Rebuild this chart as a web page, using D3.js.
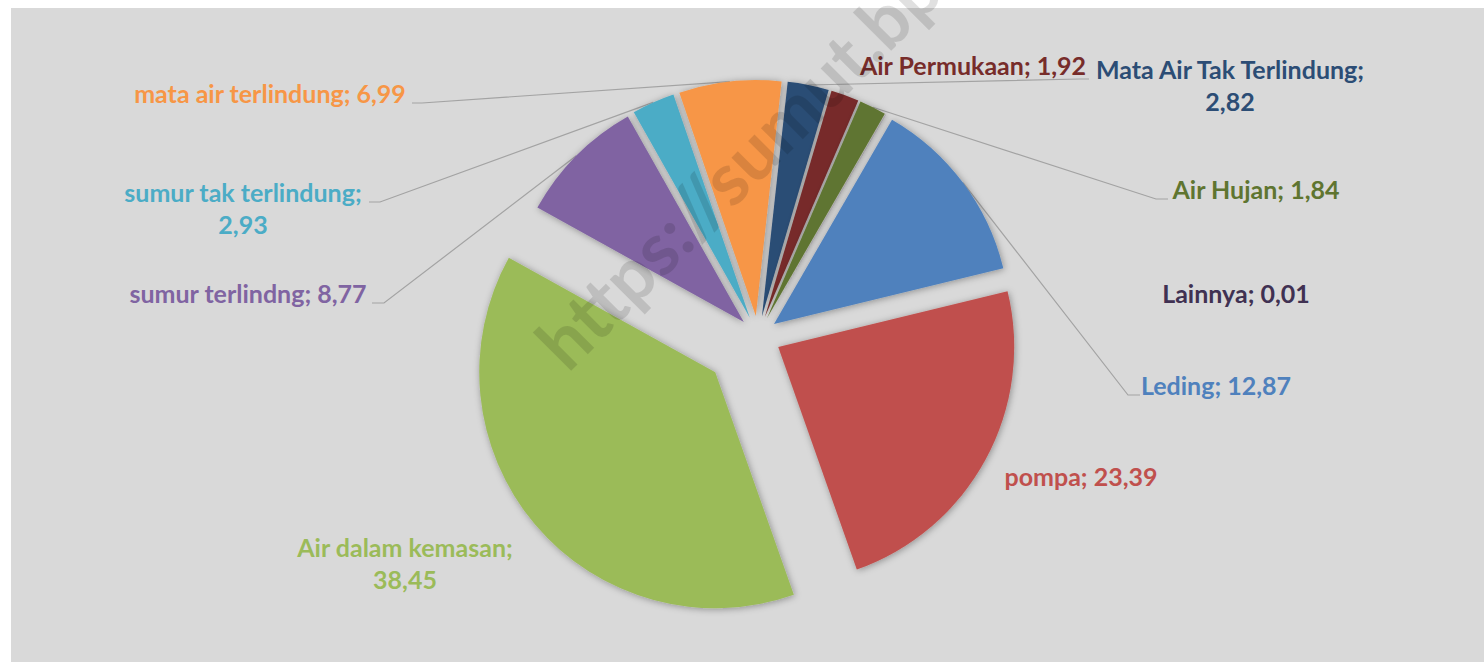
<!doctype html>
<html>
	<head>
		<meta charset="UTF-8">
		<script src="https://d3js.org/d3.v7.min.js"></script>
		<style>
			body { margin: 0; background: #ffffff; }
			svg { display: block; }
			.label { font-family: "Lato", "Open Sans", sans-serif; font-weight: 700; }
		</style>
	</head>
	<body>
		<script>

			// sources of drinking water (%), in the order the slices are drawn
			const categories = ["Leding", "pompa", "Air dalam kemasan", "sumur terlindng", "sumur tak terlindung",
				"mata air terlindung", "Mata Air Tak Terlindung", "Air Permukaan", "Air Hujan", "Lainnya"];
			const values = [12.87, 23.39, 38.45, 8.77, 2.93, 6.99, 2.82, 1.92, 1.84, 0.01];
			const colors = ["#4F81BD", "#C0504D", "#9BBB59", "#8064A2", "#4BACC6",
				"#F79646", "#2C4D75", "#772C2A", "#5F7530", "#403152"];

			(function(){

				const width = 1484, height = 662;
				const cx = 758, cy = 336, radius = 236;
				const firstAngle = 30 * Math.PI / 180;

				// how far each slice is pulled out of the pie
				const explode = {"pompa": 23, "Air dalam kemasan": 56};
				const baseExplode = 20;

				// where Excel placed each data label (centre x, baseline y), plus the leader stub
				const labelLayout = {
					"Leding": {x: 1216, y: 395, stub: [1140, 1128]},
					"pompa": {x: 1081, y: 486},
					"Air dalam kemasan": {x: 405, y: 557, wrap: true},
					"sumur terlindng": {x: 248, y: 303, stub: [372, 384]},
					"sumur tak terlindung": {x: 243, y: 202, wrap: true, stub: [369, 380]},
					"mata air terlindung": {x: 270, y: 103, stub: [412, 422]},
					"Mata Air Tak Terlindung": {x: 1230, y: 79, wrap: true, stub: [1089, 1080]},
					"Air Permukaan": {x: 973, y: 75},
					"Air Hujan": {x: 1256, y: 199, stub: [1168, 1156]},
					"Lainnya": {x: 1236, y: 303}
				};

				const data = categories.map(function(c, i){
					return {name: c, value: values[i], color: colors[i]};
				});

				const fmt = function(v){ return d3.format(".2f")(v).replace(".", ","); };

				let svg = d3.select("body").append("svg")
								.attr("width", width)
								.attr("height", height);

				let defs = svg.append("defs");
				defs.append("filter")
					  .attr("id", "shadow")
					  .attr("x", "-20%").attr("y", "-20%")
					  .attr("width", "140%").attr("height", "140%")
					.append("feDropShadow")
					  .attr("dx", 1)
					  .attr("dy", 1)
					  .attr("stdDeviation", 3.5)
					  .attr("flood-color", "#000")
					  .attr("flood-opacity", 0.35);

				svg.append("rect")
					 .attr("x", 11)
					 .attr("y", 8)
					 .attr("width", width - 11)
					 .attr("height", height - 8)
					 .attr("fill", "#d9d9d9");

				let pie = d3.pie()
							.sort(null)
							.value(function(d){ return d.value; })
							.startAngle(firstAngle)
							.endAngle(firstAngle + 2 * Math.PI);

				let arc = d3.arc().innerRadius(0).outerRadius(radius);
				let rim = d3.arc().innerRadius(radius).outerRadius(radius);

				let arcs = pie(data);

				let shift = function(d){
					let mid = (d.startAngle + d.endAngle) / 2;
					let off = explode[d.data.name] !== undefined ? explode[d.data.name] : baseExplode;
					return [cx + off * Math.sin(mid), cy - off * Math.cos(mid)];
				};

				// leader lines
				let line = d3.line();
				let leaders = svg.append("g");
				arcs.forEach(function(d){
					let lay = labelLayout[d.data.name];
					if (!lay.stub) return;
					let s = shift(d);
					let c = rim.centroid(d);
					leaders.append("path")
						   .attr("d", line([[lay.stub[0], lay.y], [lay.stub[1], lay.y], [s[0] + c[0], s[1] + c[1]]]))
						   .attr("fill", "none")
						   .attr("stroke", "#a3a3a3")
						   .attr("stroke-width", 1.2);
				});

				svg.append("g")
					 .selectAll("path")
					 .data(arcs)
					 .enter().append("path")
					   .attr("transform", function(d){ return "translate(" + shift(d) + ")"; })
					   .attr("d", arc)
					   .attr("fill", function(d){ return d.data.color; })
					   .attr("filter", "url(#shadow)");

				// data labels
				let labels = svg.append("g");
				arcs.forEach(function(d){
					let lay = labelLayout[d.data.name];
					let t = labels.append("text")
								  .attr("class", "label")
								  .attr("text-anchor", "middle")
								  .attr("font-size", "25px")
								  .attr("fill", d.data.color);
					if (lay.wrap) {
						t.append("tspan").attr("x", lay.x).attr("y", lay.y).text(d.data.name + ";");
						t.append("tspan").attr("x", lay.x).attr("dy", 31.5).text(fmt(d.data.value));
					} else {
						t.append("tspan").attr("x", lay.x).attr("y", lay.y).text(d.data.name + "; " + fmt(d.data.value));
					}
				});

				// watermark of the source site
				svg.append("text")
					 .attr("class", "label")
					 .attr("transform", "translate(568,374) rotate(-45)")
					 .attr("font-size", "73px")
					 .attr("fill", "#000")
					 .attr("fill-opacity", 0.12)
					 .text("https://sumut.bps.go.id");

			})();

		</script>
	</body>
</html>
